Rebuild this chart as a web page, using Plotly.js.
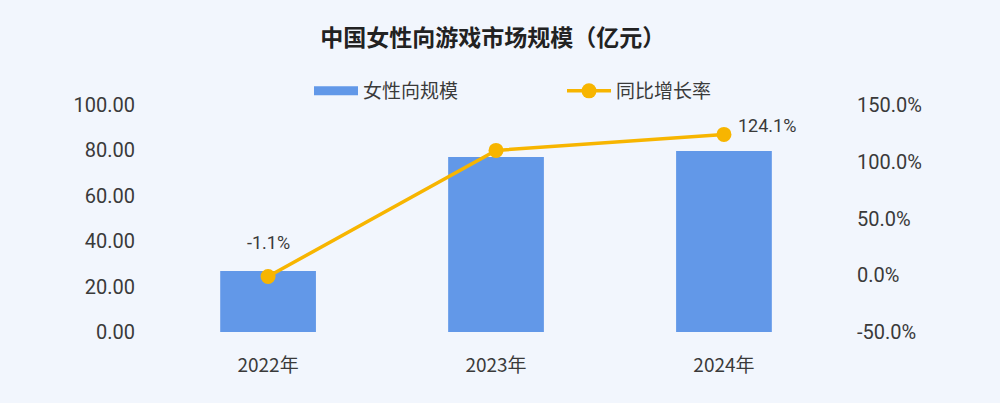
<!DOCTYPE html>
<html>
<head>
<meta charset="utf-8">
<script src="https://cdn.plot.ly/plotly-3.0.1.min.js"></script>
<style>html,body{margin:0;padding:0;background:#f2f6fd;}#chart{width:1000px;height:403px;}</style>
</head>
<body>
<div id="chart"></div>
<script>
const years = ['2022年', '2023年', '2024年'];
const marketSize = [26.9, 77.1, 79.7];
const growthRate = [-1.1, 110.0, 124.1];
const growthLabels = ['-1.1%', '', '124.1%'];
const leftTicks = [0, 20, 40, 60, 80, 100];
const leftTickText = ['0.00', '20.00', '40.00', '60.00', '80.00', '100.00'];
const rightTicks = [-50, 0, 50, 100, 150];
const rightTickText = ['-50.0%', '0.0%', '50.0%', '100.0%', '150.0%'];

const font = 'Roboto, "Noto Sans CJK SC", sans-serif';
const cjk = '"Noto Sans CJK SC", Roboto, sans-serif';
const barColor = '#6298e8';
const lineColor = '#f7b500';
const textColor = '#3a3a3a';

const traces = [
  {
    type: 'bar', name: '女性向规模', x: years, y: marketSize, showlegend: false,
    marker: {color: barColor}, hoverinfo: 'skip'
  },
  {
    type: 'scatter', mode: 'lines', name: '女性向规模', x: [null], y: [null],
    line: {color: barColor, width: 9}, showlegend: true
  },
  {
    type: 'scatter', mode: 'lines+markers', name: '同比增长率',
    x: years, y: growthRate, yaxis: 'y2',
    line: {color: lineColor, width: 3.5},
    marker: {color: lineColor, size: 15}, cliponaxis: false
  }
];

const labelShift = [{x: 0, y: 34, anchor: 'center'}, {x: 0, y: 0, anchor: 'center'}, {x: 12, y: 9, anchor: 'left'}];
const annotations = years.map((yr, i) => ({
  x: yr, y: growthRate[i], xref: 'x', yref: 'y2', text: growthLabels[i], showarrow: false,
  xanchor: labelShift[i].anchor, yanchor: 'middle', xshift: labelShift[i].x, yshift: labelShift[i].y,
  font: {size: 18, color: textColor, family: font}
})).filter(a => a.text);

const layout = {
  width: 1000, height: 403,
  paper_bgcolor: '#f2f6fd', plot_bgcolor: '#f2f6fd',
  margin: {l: 150, r: 155, t: 105, b: 71},
  font: {family: font, color: textColor, size: 20},
  title: {text: '<b>中国女性向游戏市场规模（亿元）</b>', x: 493 / 1000, xanchor: 'center', y: 1 - 38 / 403, yanchor: 'middle',
          xref: 'paper', font: {size: 23, color: '#222', family: cjk}},
  showlegend: true,
  legend: {orientation: 'h', x: (309 - 150) / 695, xanchor: 'left', y: 1 + (105 - 91) / 227, yanchor: 'middle',
           font: {size: 19, color: textColor, family: cjk}, entrywidth: 194, itemwidth: 44,
           bgcolor: 'rgba(0,0,0,0)', traceorder: 'normal'},
  annotations: annotations,
  bargap: 0.58,
  xaxis: {type: 'category', range: [-0.518, 2.531], showgrid: false, zeroline: false, showline: false,
          ticks: '', ticklabelstandoff: 20, tickfont: {size: 19, color: textColor, family: cjk}},
  yaxis: {range: [0, 100], tickvals: leftTicks, ticktext: leftTickText, showgrid: false, zeroline: false,
          showline: false, ticks: '', ticklabelstandoff: 14, tickfont: {size: 20, color: textColor, family: font}},
  yaxis2: {overlaying: 'y', side: 'right', range: [-50, 150], tickvals: rightTicks, ticktext: rightTickText,
           showgrid: false, zeroline: false, showline: false, ticks: '', ticklabelstandoff: 11,
           tickfont: {size: 20, color: textColor, family: font}}
};

Plotly.newPlot('chart', traces, layout, {displayModeBar: false, staticPlot: true});
</script>
</body>
</html>
